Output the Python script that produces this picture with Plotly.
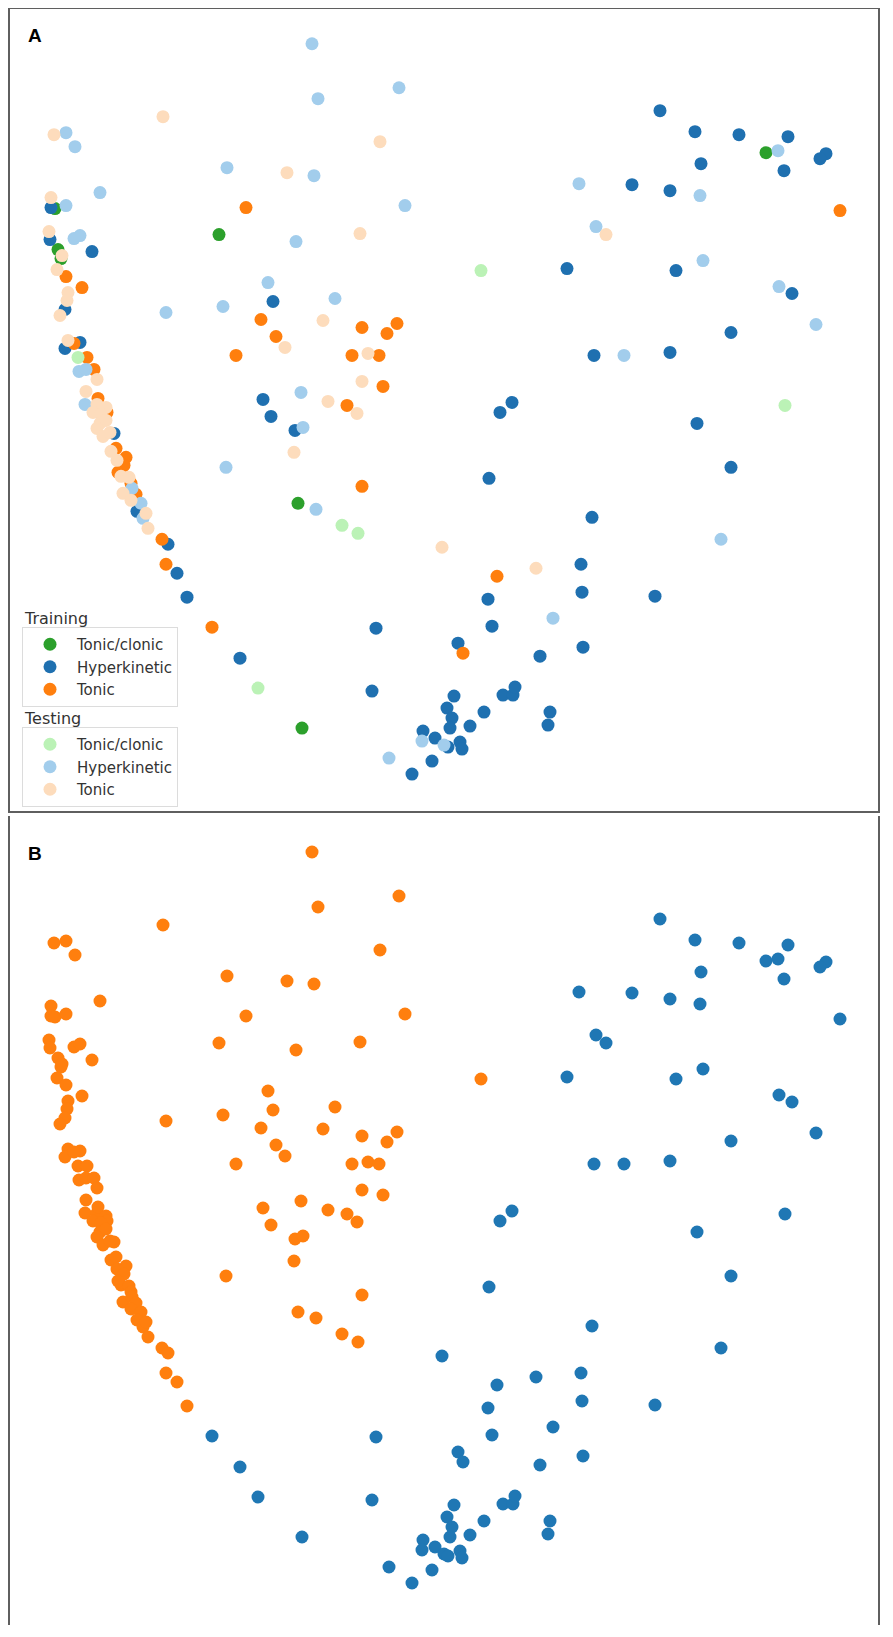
import plotly.graph_objects as go

# embedding coordinates (dim2 grows downward)
dim1 = [312, 399, 318, 163, 54, 66, 75, 380, 227, 287, 314, 100, 51, 51, 55, 66, 246, 405, 219, 360,
        296, 49, 50, 74, 80, 92, 58, 61, 62, 57, 66, 82, 268, 68, 67, 273, 335, 223, 166, 65,
        60, 261, 323, 362, 397, 387, 276, 285, 236, 352, 368, 379, 68, 80, 65, 78, 87, 79, 86, 94,
        97, 362, 383, 301, 263, 328, 347, 357, 271, 295, 303, 294, 226, 362, 298, 316, 342, 358, 86, 85,
        97, 98, 106, 93, 107, 101, 100, 106, 97, 114, 103, 110, 111, 116, 126, 117, 124, 121, 118, 129,
        131, 123, 132, 136, 131, 141, 137, 143, 146, 148, 162, 168, 166, 177, 187, 212, 240, 258, 302, 376,
        372, 389, 412, 432, 423, 422, 435, 444, 448, 460, 462, 447, 452, 450, 454, 470, 484, 503, 513, 515,
        550, 548, 458, 463, 540, 583, 492, 553, 488, 582, 655, 497, 581, 536, 442, 592, 721, 489, 731, 512,
        500, 697, 785, 660, 695, 739, 788, 766, 778, 826, 820, 701, 784, 579, 632, 670, 700, 840, 596, 606,
        481, 567, 676, 703, 779, 792, 816, 731, 594, 624, 670, 74]
dim2 = [43, 87, 98, 116, 134, 132, 146, 141, 167, 172, 175, 192, 197, 207, 208, 205, 207, 205, 234, 233,
        241, 231, 239, 238, 235, 251, 249, 258, 255, 269, 276, 287, 282, 292, 300, 301, 298, 306, 312, 309,
        315, 319, 320, 327, 323, 333, 336, 347, 355, 355, 353, 355, 340, 342, 348, 357, 357, 371, 369, 369,
        379, 381, 386, 392, 399, 401, 405, 413, 416, 430, 427, 452, 467, 486, 503, 509, 525, 533, 391, 404,
        404, 398, 407, 412, 412, 414, 423, 420, 428, 433, 436, 432, 451, 448, 457, 460, 465, 476, 472, 477,
        483, 493, 488, 494, 500, 503, 511, 518, 513, 528, 539, 544, 564, 573, 597, 627, 658, 688, 728, 628,
        691, 758, 774, 761, 731, 741, 738, 745, 747, 742, 749, 708, 718, 728, 696, 726, 712, 695, 695, 687,
        712, 725, 643, 653, 656, 647, 626, 618, 599, 592, 596, 576, 564, 568, 547, 517, 539, 478, 467, 402,
        412, 423, 405, 110, 131, 134, 136, 152, 150, 153, 158, 163, 170, 183, 184, 190, 195, 210, 226, 234,
        270, 268, 270, 260, 286, 293, 324, 332, 355, 355, 352, 343]
# seizure class: TC = tonic/clonic, HK = hyperkinetic, T = tonic
seizure = ["HK", "HK", "HK", "T", "T", "HK", "HK", "T", "HK", "T", "HK", "HK", "T", "HK", "TC", "HK", "T", "HK", "TC", "T",
           "HK", "T", "HK", "HK", "HK", "HK", "TC", "TC", "T", "T", "T", "T", "HK", "T", "T", "HK", "HK", "HK", "HK", "HK",
           "T", "T", "T", "T", "T", "T", "T", "T", "T", "T", "T", "T", "T", "HK", "HK", "TC", "T", "HK", "HK", "T",
           "T", "T", "T", "HK", "HK", "T", "T", "T", "HK", "HK", "HK", "T", "HK", "T", "TC", "HK", "TC", "TC", "T", "HK",
           "T", "T", "T", "T", "T", "T", "T", "T", "T", "HK", "T", "T", "T", "T", "T", "T", "T", "T", "T", "T",
           "T", "T", "HK", "T", "T", "HK", "HK", "HK", "T", "T", "T", "HK", "T", "HK", "HK", "T", "HK", "TC", "TC", "HK",
           "HK", "HK", "HK", "HK", "HK", "HK", "HK", "HK", "HK", "HK", "HK", "HK", "HK", "HK", "HK", "HK", "HK", "HK", "HK", "HK",
           "HK", "HK", "HK", "T", "HK", "HK", "HK", "HK", "HK", "HK", "HK", "T", "HK", "T", "T", "HK", "HK", "HK", "HK", "HK",
           "HK", "HK", "TC", "HK", "HK", "HK", "HK", "TC", "HK", "HK", "HK", "HK", "HK", "HK", "HK", "HK", "HK", "T", "HK", "T",
           "TC", "HK", "HK", "HK", "HK", "HK", "HK", "HK", "HK", "HK", "HK", "T"]
split = ["te", "te", "te", "te", "te", "te", "te", "te", "te", "te", "te", "te", "te", "tr", "tr", "te", "tr", "te", "tr", "te",
         "te", "te", "tr", "te", "te", "tr", "tr", "tr", "te", "te", "tr", "tr", "te", "te", "te", "tr", "te", "te", "te", "tr",
         "te", "tr", "te", "tr", "tr", "tr", "tr", "te", "tr", "tr", "te", "tr", "te", "tr", "tr", "te", "tr", "te", "te", "tr",
         "te", "te", "tr", "te", "tr", "te", "tr", "te", "tr", "tr", "te", "te", "te", "tr", "tr", "te", "te", "te", "te", "te",
         "te", "tr", "te", "te", "tr", "te", "te", "te", "te", "tr", "te", "te", "te", "tr", "tr", "te", "tr", "te", "tr", "te",
         "tr", "te", "te", "tr", "te", "te", "tr", "te", "te", "te", "tr", "tr", "tr", "tr", "tr", "tr", "tr", "te", "tr", "tr",
         "tr", "te", "tr", "tr", "tr", "te", "tr", "te", "tr", "tr", "tr", "tr", "tr", "tr", "tr", "tr", "tr", "tr", "tr", "tr",
         "tr", "tr", "tr", "tr", "tr", "tr", "tr", "te", "tr", "tr", "tr", "tr", "tr", "te", "te", "tr", "te", "tr", "tr", "tr",
         "tr", "tr", "te", "tr", "tr", "tr", "tr", "tr", "te", "tr", "tr", "tr", "tr", "te", "tr", "tr", "te", "tr", "te", "te",
         "te", "tr", "tr", "te", "te", "tr", "te", "tr", "tr", "te", "tr", "tr"]
# cluster assigned in panel B
cluster = ["T"] * 115 + ["HK"] * 65 + ["T"] + ["HK"] * 10 + ["T"]

# the page body adds an 8px margin, so the figure is a bit smaller
W, H = 877, 1621
OFF = 8


def px(v):
    return (v - OFF) / W


def py(v):
    return 1 - (v - OFF) / H


classes = [("TC", "Tonic/clonic"), ("HK", "Hyperkinetic"), ("T", "Tonic")]
colors_train = {"TC": "#2ca02c", "HK": "#1f70b0", "T": "#ff7f0e"}
colors_test = {"TC": "#bbf2b6", "HK": "#a2cdec", "T": "#fddcbc"}
colors_cluster = {"HK": "#1f77b4", "T": "#ff7f0e"}

fig = go.Figure()

# panel A: training first, testing drawn over it
for sp, cmap, leg in [("tr", colors_train, "legend"), ("te", colors_test, "legend2")]:
    for code, name in classes:
        idx = [i for i in range(len(dim1)) if split[i] == sp and seizure[i] == code]
        fig.add_trace(go.Scatter(
            x=[dim1[i] for i in idx], y=[dim2[i] for i in idx],
            mode="markers", name=name, legend=leg,
            marker=dict(size=13, color=cmap[code], line=dict(width=0)),
            xaxis="x", yaxis="y",
        ))

# panel B: clusters
for code in ["T", "HK"]:
    idx = [i for i in range(len(dim1)) if cluster[i] == code]
    fig.add_trace(go.Scatter(
        x=[dim1[i] for i in idx], y=[dim2[i] for i in idx],
        mode="markers", showlegend=False,
        marker=dict(size=13, color=colors_cluster[code], line=dict(width=0)),
        xaxis="x2", yaxis="y2",
    ))

frame = dict(showline=True, mirror=True, linecolor="#5f5f5f", linewidth=2,
             showgrid=False, zeroline=False, showticklabels=False, ticks="")

legend_style = dict(xanchor="left", yanchor="top", bgcolor="white",
                    bordercolor="#dcdcdc", borderwidth=1, itemwidth=44,
                    font=dict(family="DejaVu Sans", size=15, color="#333333"))

fig.update_layout(
    width=W, height=H,
    margin=dict(l=0, r=0, t=0, b=0),
    paper_bgcolor="white", plot_bgcolor="white",
    xaxis=dict(domain=[px(10), px(878)], range=[10, 878], **frame),
    yaxis=dict(domain=[py(811), 0.9995], range=[811, 8], **frame),
    xaxis2=dict(domain=[px(10), px(878)], range=[10, 878], **frame),
    yaxis2=dict(domain=[py(1625), py(816)], range=[816, 7], **frame),
    legend=dict(x=px(22), y=py(627), **legend_style),
    legend2=dict(x=px(22), y=py(727), **legend_style),
    annotations=[
        dict(text="<b>A</b>", x=px(26), y=py(36), xref="paper", yref="paper",
             xanchor="left", yanchor="middle", showarrow=False,
             font=dict(family="Liberation Sans", size=19, color="black")),
        dict(text="<b>B</b>", x=px(26), y=py(853), xref="paper", yref="paper",
             xanchor="left", yanchor="middle", showarrow=False,
             font=dict(family="Liberation Sans", size=19, color="black")),
        dict(text="Training", x=px(22), y=py(618), xref="paper", yref="paper",
             xanchor="left", yanchor="middle", showarrow=False,
             font=dict(family="DejaVu Sans", size=16, color="#333333")),
        dict(text="Testing", x=px(22), y=py(719), xref="paper", yref="paper",
             xanchor="left", yanchor="middle", showarrow=False,
             font=dict(family="DejaVu Sans", size=16, color="#333333")),
    ],
)

fig.write_html("out.html")
